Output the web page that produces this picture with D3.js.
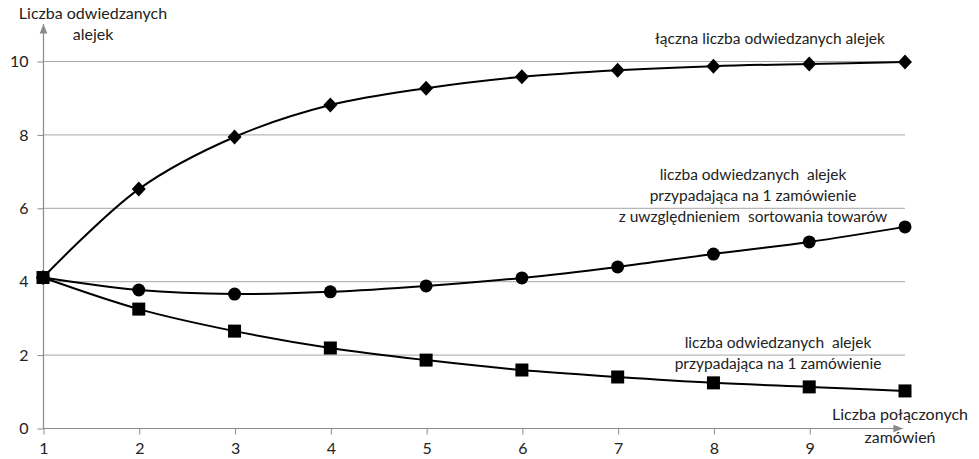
<!DOCTYPE html>
<html><head><meta charset="utf-8">
<script src="https://cdn.jsdelivr.net/npm/d3@7"></script>
<style>body{margin:0;background:#fff}svg{display:block}text{font-family:Lato,"Open Sans",sans-serif}</style>
</head><body>
<svg id="c" width="979" height="459"></svg>
<script>
const xValues = [1,2,3,4,5,6,7,8,9,10];
const totalAisles = [4.1,6.51,7.93,8.80,9.26,9.57,9.75,9.86,9.92,9.97];
const perOrderSorted = [4.1,3.76,3.65,3.71,3.87,4.09,4.39,4.74,5.07,5.48];
const perOrder = [4.1,3.24,2.64,2.18,1.85,1.58,1.39,1.23,1.12,1.01];
const xTickLabels = [1,2,3,4,5,6,7,8,9];
const yTickLabels = [0,2,4,6,8,10];
const yTitle = ["Liczba odwiedzanych","alejek"];
const xTitle = ["Liczba połączonych","zamówień"];
const labelTotal = ["łączna liczba odwiedzanych alejek"];
const labelSorted = ["liczba odwiedzanych  alejek","przypadająca na 1 zamówienie","z uwzględnieniem  sortowania towarów"];
const labelPerOrder = ["liczba odwiedzanych  alejek","przypadająca na 1 zamówienie"];

const svg = d3.select("#c");
const x = d3.scaleLinear().domain([1,10]).range([43,905]);
const y = d3.scaleLinear().domain([0,10]).range([428,61]);
const axisCol = "#8a8a8a", gridCol = "#a6a6a6", txtCol = "#222";

// gridlines
svg.append("g").selectAll("line").data(yTickLabels.filter(d=>d>0)).join("line")
  .attr("x1",x(1)).attr("x2",x(10)).attr("y1",d=>y(d)+0.5).attr("y2",d=>y(d)+0.5)
  .attr("stroke",gridCol).attr("stroke-width",1);

// y axis
const yAxis = d3.axisLeft(y).tickValues(yTickLabels).tickSize(6).tickPadding(9);
const gy = svg.append("g").attr("transform",`translate(${x(1)+0.5},0.5)`).call(yAxis);
gy.select(".domain").remove();
gy.selectAll("line").attr("stroke",axisCol);
gy.selectAll("text").attr("font-size",16).attr("fill",txtCol).attr("font-family","Lato,sans-serif");
// x axis
const xAxis = d3.axisBottom(x).tickValues(xTickLabels).tickSize(6).tickPadding(8);
const gx = svg.append("g").attr("transform",`translate(0.5,${y(0)+0.5})`).call(xAxis);
gx.select(".domain").remove();
gx.selectAll("line").attr("stroke",axisCol);
gx.selectAll("text").attr("font-size",16).attr("fill",txtCol).attr("font-family","Lato,sans-serif");

// arrows
const defs = svg.append("defs");
defs.append("marker").attr("id","arr").attr("viewBox","0 0 10 10").attr("refX",10).attr("refY",5)
  .attr("markerWidth",8).attr("markerHeight",8).attr("orient","auto")
  .append("path").attr("d","M0,1 L10,5 L0,9 Z").attr("fill",axisCol);
svg.append("line").attr("x1",x(1)+0.5).attr("x2",x(1)+0.5).attr("y1",y(0)).attr("y2",24)
  .attr("stroke",axisCol).attr("stroke-width",1.2).attr("marker-end","url(#arr)");
svg.append("line").attr("x1",x(1)).attr("x2",903).attr("y1",y(0)+0.5).attr("y2",y(0)+0.5)
  .attr("stroke",axisCol).attr("stroke-width",1.2).attr("marker-end","url(#arr)");

// series
const line = d3.line().x((d,i)=>x(xValues[i])).y(d=>y(d)).curve(d3.curveCatmullRom.alpha(0.5));
[totalAisles, perOrderSorted, perOrder].forEach(s=>{
  svg.append("path").attr("d",line(s)).attr("fill","none").attr("stroke","#000").attr("stroke-width",2);
});
// markers
svg.append("g").selectAll("path").data(totalAisles).join("path")
  .attr("transform",(d,i)=>`translate(${x(xValues[i])},${y(d)})`)
  .attr("d","M0,-7.5 L7,0 L0,7.5 L-7,0 Z").attr("fill","#000");
svg.append("g").selectAll("circle").data(perOrderSorted).join("circle")
  .attr("cx",(d,i)=>x(xValues[i])).attr("cy",d=>y(d)).attr("r",6.5).attr("fill","#000");
svg.append("g").selectAll("rect").data(perOrder).join("rect")
  .attr("x",(d,i)=>x(xValues[i])-6.5).attr("y",d=>y(d)-6.5).attr("width",13).attr("height",13).attr("fill","#000");

function multi(lines, cx, baselines, fs){
  svg.append("g").selectAll("text").data(lines).join("text")
    .attr("x",cx).attr("y",(d,i)=>baselines[i]).attr("text-anchor","middle")
    .attr("font-size",fs).attr("fill",txtCol).attr("xml:space","preserve").text(d=>d);
}
multi(yTitle, 93, [19,40], 16);
multi(xTitle, 900, [420,443], 16);
multi(labelTotal, 770, [44], 15.5);
multi(labelSorted, 753, [180,201,222], 15.5);
multi(labelPerOrder, 778, [348,369], 15.5);
</script>
</body></html>
